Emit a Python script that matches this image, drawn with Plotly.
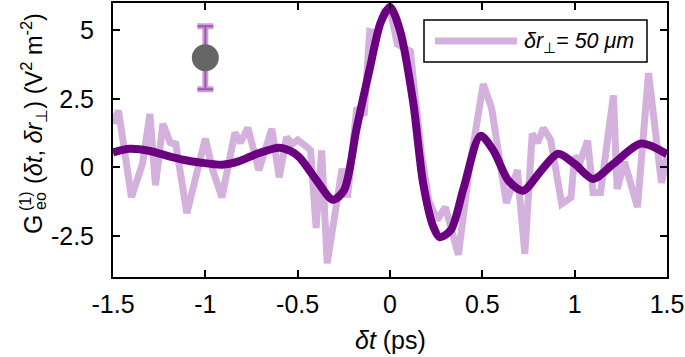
import plotly.graph_objects as go

# Noisy measured trace (light)
t_meas = [-1.50, -1.47, -1.40, -1.34, -1.30, -1.27, -1.23, -1.19, -1.16, -1.10,
          -1.00, -0.96, -0.91, -0.84, -0.81, -0.77, -0.71, -0.64, -0.60, -0.56,
          -0.53, -0.50, -0.46, -0.43, -0.40, -0.37, -0.34, -0.26, -0.23, -0.18,
          -0.14, -0.11, -0.07, -0.03, 0.00, 0.04, 0.11, 0.17, 0.21, 0.255,
          0.30, 0.37, 0.43, 0.505, 0.55, 0.63, 0.69, 0.73, 0.77, 0.80,
          0.83, 0.87, 0.93, 0.98, 1.00, 1.03, 1.07, 1.10, 1.14, 1.21,
          1.23, 1.27, 1.34, 1.40, 1.47, 1.50]
g_meas = [1.60, 2.07, -1.09, 0.14, 1.95, -0.65, 1.59, 0.90, 0.85, -1.67,
          1.05, -0.10, -1.09, 1.27, 0.90, 1.45, -0.10, 1.41, -0.36, 1.10,
          0.85, 1.00, 0.80, 0.62, -2.21, 0.62, -3.50, -0.05, -1.09, 2.17,
          1.90, 4.96, 4.90, 5.70, 5.80, 4.50, 4.24, 0.50, -1.20, -1.92,
          -1.45, -3.19, -0.04, 3.04, 2.17, -1.30, -0.10, -3.15, 1.23, 0.90,
          1.43, 1.00, -1.33, -1.10, 0.40, 0.20, 0.98, -0.92, -0.92, 2.63,
          -0.78, 0.20, -1.45, 3.44, -0.56, 0.40]

# Smooth fit (dark)
t_fit = [-1.50, -1.41, -1.30, -1.21, -1.12, -1.03, -0.91, -0.82, -0.72, -0.60,
         -0.54, -0.49, -0.40, -0.31, -0.25, -0.18, -0.11, -0.05, 0.00, 0.054,
         0.125, 0.18, 0.235, 0.27, 0.33, 0.40, 0.49, 0.56, 0.64, 0.72,
         0.82, 0.91, 1.00, 1.10, 1.21, 1.36, 1.50]
g_fit = [0.55, 0.68, 0.60, 0.43, 0.28, 0.18, 0.10, 0.22, 0.50, 0.72,
         0.60, 0.37, -0.45, -1.18, -0.85, 1.45, 3.60, 5.30, 5.85, 5.00,
         2.40, -0.60, -2.17, -2.55, -2.28, -0.72, 1.15, 0.62, -0.47, -0.85,
         -0.10, 0.50, 0.13, -0.42, 0.13, 0.87, 0.48]

# Error bar example point
err_x = [-1.0]
err_y = [4.0]
err_val = [1.15]

x_ticks = [-1.5, -1, -0.5, 0, 0.5, 1, 1.5]
x_ticklabels = ["-1.5", "-1", "-0.5", "0", "0.5", "1", "1.5"]
y_ticks = [-2.5, 0, 2.5, 5]
y_ticklabels = ["-2.5", "0", "2.5", "5"]

LIGHT = "rgb(212,177,220)"
DARK = "rgb(106,0,128)"
FONT = "Liberation Sans, Arial"

L, R, T, B = 113, 18, 3, 80
W, H = 685, 357
PW, PH = W - L - R, H - T - B


def px(x):
    return (x - L) / PW


def py(y):
    return (H - B - y) / PH


fig = go.Figure()
fig.add_trace(go.Scatter(x=t_meas, y=g_meas, mode="lines",
                         line=dict(color=LIGHT, width=7), showlegend=False))
fig.add_trace(go.Scatter(x=t_fit, y=g_fit, mode="lines",
                         line=dict(color=DARK, width=8, shape="spline", smoothing=0.8),
                         showlegend=False))
fig.add_trace(go.Scatter(x=err_x, y=err_y, mode="markers",
                         marker=dict(color="rgba(0,0,0,0)", size=1),
                         error_y=dict(type="data", array=err_val, color="rgba(160,80,180,0.55)",
                                      thickness=6, width=8),
                         showlegend=False))
fig.add_trace(go.Scatter(x=err_x, y=err_y, mode="markers",
                         marker=dict(color="rgb(102,102,102)", size=27),
                         error_y=dict(type="data", array=err_val, color="rgba(130,40,150,0.6)",
                                      thickness=2, width=8),
                         showlegend=False))

# Manual legend
fig.add_shape(type="rect", xref="paper", yref="paper",
              x0=px(424), x1=px(647), y0=py(62), y1=py(20),
              line=dict(color="black", width=1.5), fillcolor="white", layer="above")
fig.add_shape(type="line", xref="paper", yref="paper",
              x0=px(435), x1=px(517), y0=py(41), y1=py(41),
              line=dict(color=LIGHT, width=7), layer="above")
fig.add_annotation(xref="paper", yref="paper", x=px(522), y=py(42),
                   xanchor="left", yanchor="middle", showarrow=False,
                   text="<i>δr</i><sub>⊥</sub><i>= 50 μm</i>",
                   font=dict(family=FONT, size=21.5, color="black"))

# Y axis title built from pieces (stacked super/subscript)
fig.add_annotation(xref="paper", yref="paper", x=px(33), y=py(225),
                   xanchor="center", yanchor="middle", showarrow=False, textangle=-90,
                   text="G", font=dict(family=FONT, size=25, color="black"))
fig.add_annotation(xref="paper", yref="paper", x=px(25), y=py(201),
                   xanchor="center", yanchor="middle", showarrow=False, textangle=-90,
                   text="(1)", font=dict(family=FONT, size=16, color="black"))
fig.add_annotation(xref="paper", yref="paper", x=px(40), y=py(201),
                   xanchor="center", yanchor="middle", showarrow=False, textangle=-90,
                   text="eo", font=dict(family=FONT, size=16, color="black"))
fig.add_annotation(xref="paper", yref="paper", x=px(33), y=py(99),
                   xanchor="center", yanchor="middle", showarrow=False, textangle=-90,
                   text="(<i>δt</i>, <i>δr</i><sub>⊥</sub>) (V<sup>2</sup> m<sup>-2</sup>)",
                   font=dict(family=FONT, size=23.5, color="black"))

# X axis title
fig.add_annotation(xref="paper", yref="paper", x=px(390), y=py(340),
                   xanchor="center", yanchor="middle", showarrow=False,
                   text="<i>δt</i> (ps)", font=dict(family=FONT, size=25, color="black"))

axis_common = dict(showgrid=False, zeroline=False, showline=True, linecolor="black",
                   linewidth=2, mirror="ticks", ticks="inside", ticklen=7, tickwidth=1.5,
                   tickcolor="black", automargin=False,
                   tickfont=dict(family=FONT, size=25, color="black"))

fig.update_xaxes(range=[-1.5, 1.5], tickvals=x_ticks, ticktext=x_ticklabels,
                 ticklabelstandoff=4, **axis_common)
fig.update_yaxes(range=[-4, 6], tickvals=y_ticks, ticktext=y_ticklabels,
                 ticklabelstandoff=12, **axis_common)

fig.update_layout(width=W, height=H, margin=dict(l=L, r=R, t=T, b=B),
                  plot_bgcolor="white", paper_bgcolor="white", showlegend=False)

fig.write_html("out.html", config={"displayModeBar": False},
               post_script="document.body.style.margin='0px';")
